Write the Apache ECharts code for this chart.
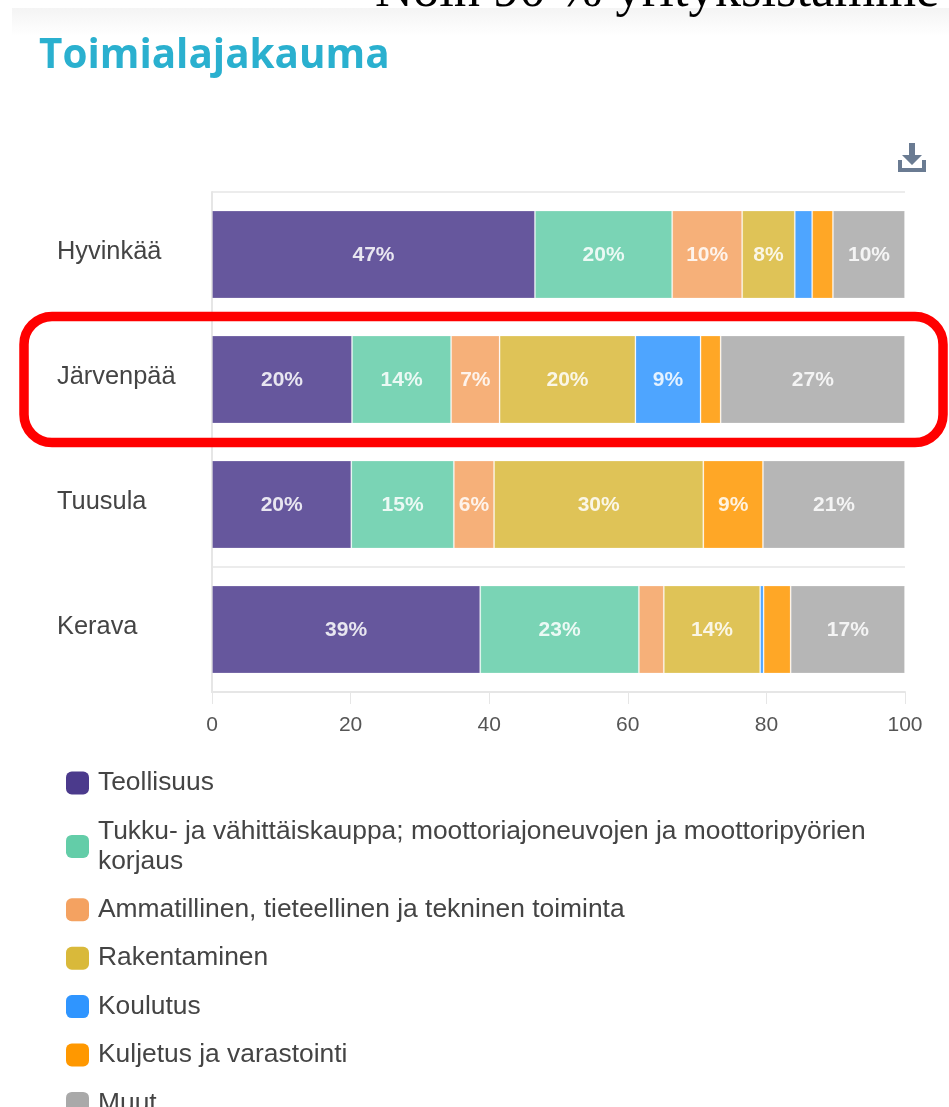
<!DOCTYPE html>
<html>
<head>
<meta charset="utf-8">
<style>html,body{margin:0;padding:0;background:#fff;overflow:hidden}#c{width:949px;height:1107px}</style>
<script src="https://cdn.jsdelivr.net/npm/echarts@6/dist/echarts.min.js"></script>
</head>
<body>
<div id="c"></div>
<script>
const categories = ['Hyvinkää', 'Järvenpää', 'Tuusula', 'Kerava'];
const seriesNames = ['Teollisuus', 'Tukku- ja vähittäiskauppa; moottoriajoneuvojen ja moottoripyörien korjaus', 'Ammatillinen, tieteellinen ja tekninen toiminta', 'Rakentaminen', 'Koulutus', 'Kuljetus ja varastointi', 'Muut'];
const colors = ['#4b3a8c', '#63cda8', '#f4a261', '#d9b93a', '#2f95ff', '#ff9800', '#a9a9a9'];
const teollisuus = [46.6, 20.2, 20.1, 38.7];
const tukku = [19.8, 14.3, 14.8, 22.9];
const ammatillinen = [10.1, 7.0, 5.8, 3.6];
const rakentaminen = [7.6, 19.6, 30.2, 13.9];
const koulutus = [2.5, 9.4, 0, 0.5];
const kuljetus = [3.0, 2.9, 8.6, 3.9];
const muut = [10.4, 26.6, 20.5, 16.5];
const values = [teollisuus, tukku, ammatillinen, rakentaminen, koulutus, kuljetus, muut];
const xTicks = [0, 20, 40, 60, 80, 100];
const titleText = 'Toimialajakauma';
const topText = 'Noin 90 % yrityksistämme';

const SANS = '"Liberation Sans", Arial, sans-serif';
const chart = echarts.init(document.getElementById('c'), null, {renderer: 'canvas'});
chart.setOption({
  animation: false,
  backgroundColor: '#fff',
  color: colors,
  title: {
    text: titleText, left: 39, top: 36, padding: 0,
    textStyle: {color: '#2ab0cf', fontFamily: '"Open Sans", sans-serif', fontWeight: 700, fontSize: 40.4}
  },
  grid: {left: 212, top: 192, width: 693, height: 500, containLabel: false},
  legend: {
    orient: 'vertical', left: 66, top: 768, height: 400, padding: 0,
    itemWidth: 23, itemHeight: 23, itemGap: 18.4, icon: 'roundRect',
    itemStyle: {opacity: 1, borderWidth: 0},
    data: seriesNames,
    formatter: n => n.replace('moottoripyörien ', 'moottoripyörien\n'),
    textStyle: {fontFamily: SANS, fontSize: 26.4, lineHeight: 30, color: '#444', padding: [0, 0, 0, 4]}
  },
  xAxis: {
    type: 'value', min: 0, max: 100, interval: 20,
    axisLine: {show: true, lineStyle: {color: '#e6e6e6', width: 2}},
    axisTick: {show: true, length: 12, lineStyle: {color: '#e6e6e6', width: 1}},
    splitLine: {show: false},
    axisLabel: {
      margin: 23, color: '#555', fontFamily: SANS, fontSize: 21,
      showMinLabel: true, showMaxLabel: true, alignMinLabel: 'center', alignMaxLabel: 'center',
      formatter: v => xTicks.includes(v) ? String(v) : ''
    }
  },
  yAxis: {
    type: 'category', inverse: true, data: categories,
    axisLine: {show: true, lineStyle: {color: '#e6e6e6', width: 2}},
    axisTick: {show: false},
    splitLine: {show: true, lineStyle: {color: '#ececec', width: 2}},
    axisLabel: {
      align: 'left', verticalAlign: 'bottom', lineHeight: 5, margin: 155, color: '#444', fontFamily: SANS, fontSize: 25.4
    }
  },
  series: seriesNames.map((name, i) => ({
    name, type: 'bar', stack: 'total', barWidth: 88, data: values[i],
    itemStyle: {opacity: 0.85, borderColor: 'rgba(255,255,255,0.25)', borderWidth: 1},
    label: {
      show: true, position: 'inside', offset: [0, 1], color: '#fff', fontFamily: SANS,
      fontWeight: 700, fontSize: 21,
      formatter: p => p.value >= 5 ? Math.round(p.value) + '%' : ''
    }
  })),
  graphic: [
    {type: 'rect', z: -10, shape: {x: 12, y: 8, width: 937, height: 28},
      style: {fill: new echarts.graphic.LinearGradient(0, 0, 0, 1, [{offset: 0, color: '#f4f4f4'}, {offset: 1, color: '#ffffff'}])}},
    {type: 'text', z: 50, x: 375, y: 19, style: {text: topText, fill: '#000', fontFamily: '"Liberation Serif", serif', fontSize: 52.5, textVerticalAlign: 'bottom'}},
    {type: 'polygon', z: 50, shape: {points: [[909, 143], [915, 143], [915, 155], [922, 155], [912, 165], [902, 155], [909, 155]]}, style: {fill: '#6a7b92'}},
    {type: 'polygon', z: 50, shape: {points: [[898, 160], [902, 160], [902, 168], [922, 168], [922, 160], [926, 160], [926, 172], [898, 172]]}, style: {fill: '#6a7b92'}},
    {type: 'rect', z: 60, shape: {x: 24, y: 316.5, width: 919, height: 126, r: 28},
      style: {fill: 'transparent', stroke: '#ff0000', lineWidth: 9.5}}
  ]
});
</script>
</body>
</html>
